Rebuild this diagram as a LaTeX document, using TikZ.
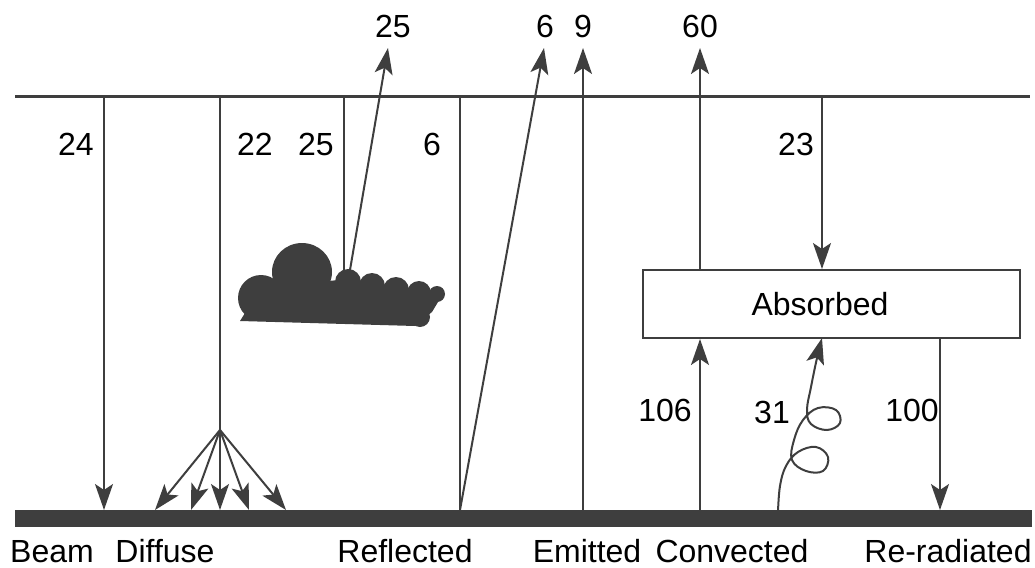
\documentclass[tikz,border=0pt]{standalone}
\usepackage{fontspec}
\setmainfont{Liberation Sans}
\usepackage{tikz}
\usetikzlibrary{arrows.meta}
\definecolor{ink}{HTML}{3E3E3E}

\tikzset{
    flow/.style={line width=1pt, draw=ink},
    flowarrow/.style={flow, -{Stealth[length=13pt,width=9pt,inset=3pt]}},
    lbl/.style={font=\fontsize{16}{19}\selectfont, text=black, inner sep=0pt, anchor=base},
}

\begin{document}
\begin{tikzpicture}[x=0.5pt, y=-0.5pt]
    \useasboundingbox (0,0) rectangle (1035,568);
    % sky line and ground
    \draw [line width=1.5pt, draw=ink] (15,96) -- (1030,96);
    \fill [ink] (15,510) rectangle (1032,527);
    % points on the sky line and ground
    \coordinate (beamtop) at (104,96);   \coordinate (beambot) at (104,510);
    \coordinate (difftop) at (220,96);   \coordinate (hub) at (220,430);
    \coordinate (cldtop) at (344,96);    \coordinate (cldhit) at (344,272);
    \coordinate (cldout) at (350,270);   \coordinate (cldend) at (388,48);
    \coordinate (reftop) at (460,96);    \coordinate (refbot) at (460,510);
    \coordinate (refend) at (544,48);
    \coordinate (emibot) at (583,510);   \coordinate (emiend) at (583,48);
    \coordinate (conbot) at (700,510);   \coordinate (conend) at (700,48);
    \coordinate (abstop) at (822,96);
    \coordinate (curlend) at (822,338);
    \coordinate (radbot) at (940,510);

    \node [draw=ink, line width=1pt, minimum width=188.5pt, minimum height=34pt]
        (absorbed) at (831.5,304) {};
    \node [lbl, anchor=center] (abslbl) at (820,304) {Absorbed};

    % cloud
    \fill [ink] (240,321) -- (415,326) -- (432,312) -- (444,292) -- (436,294)
                -- (340,280) -- (262,286) -- cycle;
    \fill [ink] (261,298) circle (23);
    \fill [ink] (302,272) ellipse (30 and 29);
    \fill [ink] (348,282) circle (13);
    \fill [ink] (372,286) circle (13);
    \fill [ink] (396,290) circle (13);
    \fill [ink] (419,293) circle (12);
    \fill [ink] (437,294) circle (8);
    \fill [ink] (420,317) circle (10);

    % beam
    \draw [flowarrow] (beamtop) -- (beambot);
    \node [lbl] at (76,155) {24};
    % diffuse
    \draw [flow] (difftop) -- (hub);
    \foreach \x in {155,191,220,249,286}
        \draw [flowarrow] (hub) -- (\x,510);
    \node [lbl] at (255,155) {22};
    % reflected by cloud
    \draw [flow] (cldtop) -- (cldhit);
    \draw [flowarrow] (cldout) -- (cldend);
    \node [lbl] at (316,155) {25};
    \node [lbl] at (393,37) {25};
    % reflected by ground
    \draw [flow] (reftop) -- (refbot);
    \draw [flowarrow] (refbot) -- (refend);
    \node [lbl] at (432,155) {6};
    \node [lbl] at (545,37) {6};
    % emitted
    \draw [flowarrow] (emibot) -- (emiend);
    \node [lbl] at (583,37) {9};
    % convected
    \draw [flowarrow] (conbot) -- (conbot |- absorbed.south);
    \draw [flowarrow] (conbot |- absorbed.north) -- (conend);
    \node [lbl] at (665,421) {106};
    \node [lbl] at (700,37) {60};
    % absorbed in air
    \draw [flowarrow] (abstop) -- (abstop |- absorbed.north);
    \node [lbl] at (796,155) {23};
    % latent heat, curly
    \draw [flowarrow] plot [smooth, tension=0.65] coordinates {
        (778,512) (780,486) (786,466) (798,452) (816,447) (828,457)
        (823,471) (806,471) (792,460) (794,440) (803,420) (818,408)
        (836,410) (840,423) (827,430) (811,424) (807,410) (811,387)
        (817,358) (curlend)};
    \node [lbl] at (772,423) {31};
    % re-radiated
    \draw [flowarrow] (radbot |- absorbed.south) -- (radbot);
    \node [lbl] at (912,421) {100};

    % ground labels
    \node [lbl] at (52,562) {Beam};
    \node [lbl] at (165,562) {Diffuse};
    \node [lbl] at (405,562) {Reflected};
    \node [lbl] at (587,562) {Emitted};
    \node [lbl] at (732,562) {Convected};
    \node [lbl] at (948,562) {Re-radiated};
\end{tikzpicture}
\end{document}
